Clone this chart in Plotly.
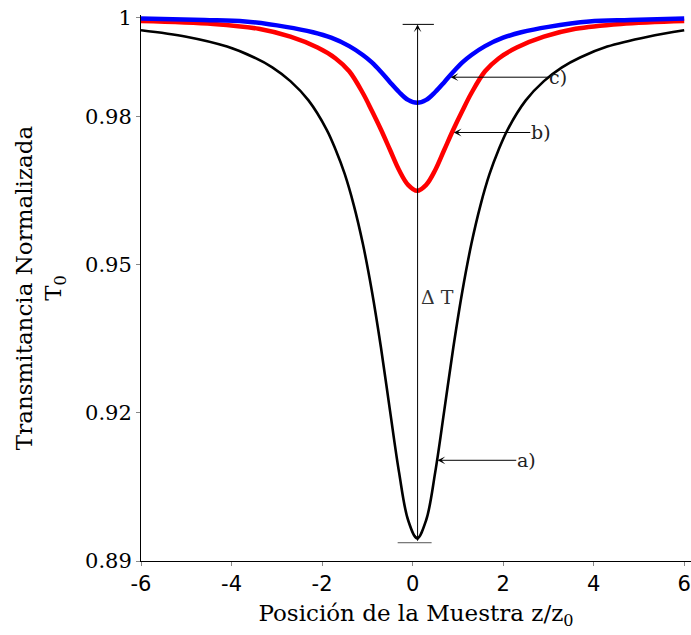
import plotly.graph_objects as go

# Curve a) (black): normalized transmittance vs. sample position
z_a = [-6.0, -5.0, -4.1, -3.5, -3.1, -2.7, -2.3, -1.9, -1.7, -1.5, -1.3, -1.1,
       -0.9, -0.7, -0.5, -0.3, -0.1, 0.1, 0.3, 0.5, 0.7, 0.9, 1.1, 1.3,
       1.5, 1.7, 1.9, 2.1, 2.5, 2.9, 3.3, 3.7, 4.3, 5.2, 6.0]
t_a = [0.9975, 0.9962, 0.9942, 0.9920, 0.9900, 0.9872, 0.9833, 0.9774, 0.9733, 0.9684,
       0.9621, 0.9543, 0.9447, 0.9333, 0.9205, 0.9080, 0.8983, 0.8946, 0.8983, 0.9080,
       0.9205, 0.9333, 0.9447, 0.9543, 0.9621, 0.9684, 0.9733, 0.9774, 0.9833, 0.9872,
       0.9900, 0.9920, 0.9942, 0.9962, 0.9975]

# Curve b) (red)
z_b = [-6.0, -4.4, -3.4, -2.7, -2.1, -1.7, -1.4, -1.1, -0.9, -0.7, -0.5, -0.3, -0.1,
       0.1, 0.3, 0.5, 0.7, 0.9, 1.1, 1.3, 1.6, 1.9, 2.3, 2.9, 3.6, 4.6, 6.0]
t_b = [0.9994, 0.9988, 0.9978, 0.9962, 0.9940, 0.9918, 0.9892, 0.9848, 0.9812, 0.9774,
       0.9733, 0.9692, 0.9662, 0.9650, 0.9662, 0.9692, 0.9733, 0.9774, 0.9812, 0.9848,
       0.9892, 0.9918, 0.9940, 0.9962, 0.9978, 0.9988, 0.9994]

# Curve c) (blue)
z_c = [-6.0, -4.6, -3.7, -2.8, -2.2, -1.8, -1.4, -1.1, -0.9, -0.7, -0.5, -0.3, -0.1,
       0.1, 0.3, 0.5, 0.7, 0.9, 1.1, 1.3, 1.6, 2.0, 2.4, 3.0, 3.9, 4.8, 6.0]
t_c = [0.9999, 0.9996, 0.9993, 0.9982, 0.9971, 0.9960, 0.9943, 0.9925, 0.9910, 0.9891,
       0.9870, 0.9850, 0.9834, 0.9828, 0.9834, 0.9850, 0.9870, 0.9891, 0.9910, 0.9925,
       0.9943, 0.9960, 0.9971, 0.9982, 0.9993, 0.9996, 0.9999]

x_ticks = [-6, -4, -2, 0, 2, 4, 6]
y_ticks = [0.89, 0.92, 0.95, 0.98, 1.0]
y_tick_text = ["0.89", "0.92", "0.95", "0.98", "1"]

# Delta-T marker (position of the dip and its extent)
dt_z = 0.11
dt_top = 0.9987
dt_bottom = 0.8937

# Callout labels: (label, arrow tip z, tip T, label z)
callouts = [("a)", 0.55, 0.9104, 2.29),
            ("b)", 0.91, 0.9768, 2.60),
            ("c)", 0.84, 0.9880, 2.99)]

SERIF = "DejaVu Serif"
SANS = "DejaVu Sans"

fig = go.Figure()
fig.add_trace(go.Scatter(x=z_a, y=t_a, mode="lines",
                         line=dict(color="black", width=2.6, shape="spline", smoothing=1.0)))
fig.add_trace(go.Scatter(x=z_b, y=t_b, mode="lines",
                         line=dict(color="#ff0000", width=4.5, shape="spline", smoothing=1.0)))
fig.add_trace(go.Scatter(x=z_c, y=t_c, mode="lines",
                         line=dict(color="#0000ff", width=4.5, shape="spline", smoothing=1.0)))

# Delta-T double arrow with end caps
fig.add_annotation(x=dt_z, y=dt_top, ax=dt_z, ay=dt_bottom, xref="x", yref="y",
                   axref="x", ayref="y", text="", showarrow=True,
                   arrowhead=3, startarrowhead=3, arrowside="end+start",
                   arrowsize=1.3, startarrowsize=1.3, arrowwidth=1, arrowcolor="black")
fig.add_shape(type="line", x0=dt_z - 0.33, x1=dt_z + 0.36, y0=dt_top, y1=dt_top,
              line=dict(color="black", width=1))
fig.add_shape(type="line", x0=dt_z - 0.44, x1=dt_z + 0.31, y0=dt_bottom, y1=dt_bottom,
              line=dict(color="#555555", width=1))
fig.add_annotation(x=dt_z + 0.03, y=0.9434, xref="x", yref="y", text="Δ T",
                   showarrow=False, xanchor="left", yanchor="middle",
                   font=dict(family=SERIF, size=19, color="#333333"))

for label, tz, tt, lz in callouts:
    fig.add_annotation(x=tz, y=tt, ax=lz, ay=tt, xref="x", yref="y",
                       axref="x", ayref="y", text=label, showarrow=True,
                       xanchor="left", yanchor="middle",
                       arrowhead=3, arrowsize=1.3, arrowwidth=1, arrowcolor="black",
                       standoff=0, borderpad=0,
                       font=dict(family=SERIF, size=19, color="#222222"))

fig.update_layout(
    width=691, height=635,
    margin=dict(l=141, r=0, t=15, b=74),
    paper_bgcolor="white", plot_bgcolor="white",
    showlegend=False,
    xaxis=dict(range=[-6, 6.15], tickvals=x_ticks, ticktext=[str(v) for v in x_ticks],
               showgrid=False, zeroline=False, showline=True, linecolor="black", linewidth=1,
               ticks="outside", ticklen=4, tickcolor="#888888",
               tickfont=dict(family=SANS, size=21, color="black"),
               title=dict(text="Posición de la Muestra z/z<sub>0</sub>", standoff=9,
                          font=dict(family=SERIF, size=23, color="black"))),
    yaxis=dict(range=[0.89, 1.0006], tickvals=y_ticks, ticktext=y_tick_text,
               showgrid=False, zeroline=False, showline=True, linecolor="black", linewidth=1,
               ticks="outside", ticklen=4, tickcolor="#888888",
               tickfont=dict(family=SERIF, size=21, color="black"),
               title=dict(text="Transmitancia Normalizada<br>T<sub>0</sub>", standoff=16,
                          font=dict(family=SERIF, size=23, color="black"))),
)

fig.write_html("out.html")
